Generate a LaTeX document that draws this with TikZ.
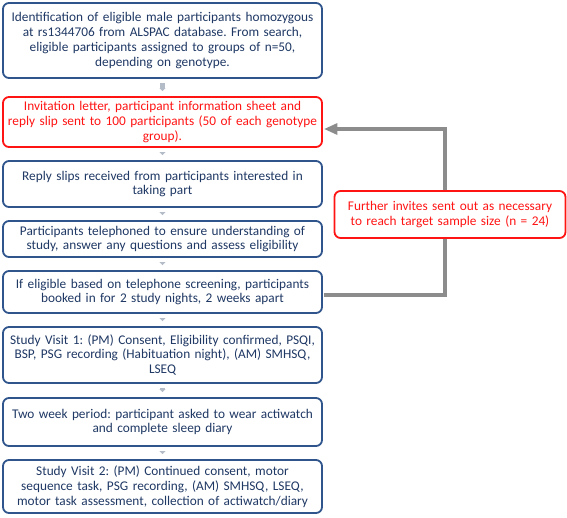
\documentclass[tikz,border=0pt]{standalone}
\usepackage{fontspec}
\setmainfont{Carlito}
\usetikzlibrary{arrows.meta}
\hyphenpenalty=10000
\exhyphenpenalty=10000
\frenchspacing
\newcommand\boxfnt{\fontsize{13.3pt}{14.7pt}\selectfont}
\definecolor{bborder}{RGB}{47,85,140}
\definecolor{btext}{RGB}{31,56,100}
\definecolor{rred}{RGB}{255,20,20}
\definecolor{lgrey}{RGB}{180,188,200}
\definecolor{dgrey}{RGB}{140,140,140}
\begin{document}
\begin{tikzpicture}[x=1pt,y=-1pt,
  bbox/.style={draw=bborder,line width=1.8pt,rounded corners=6pt,fill=white,
    text=btext,minimum width=319pt,text width=318pt,align=center,inner sep=0pt,
    font=\boxfnt},
  rbox/.style={bbox,draw=rred,text=rred},
  small/.style={draw=lgrey,line width=4.5pt,-{Triangle[length=3pt,width=6pt]}},
  fb/.style={draw=dgrey,line width=4pt}
]
\useasboundingbox (0,0) rectangle (567,517);
\node[bbox,minimum height=75pt] (b1) at (162.5,40.5) {Identification of eligible male participants homozygous\\ at rs1344706 from ALSPAC database. From search,\\ eligible participants assigned to groups of n=50,\\ depending on genotype.};
\node[rbox,minimum height=50pt] (b2) at (162.5,122) {Invitation letter, participant information sheet and\\ reply slip sent to 100 participants (50 of each genotype\\ group).};
\node[bbox,minimum height=46pt] (b3) at (162.5,184) {Reply slips received from participants interested in\\ taking part};
\node[bbox,minimum height=36pt] (b4) at (162.5,239) {Participants telephoned to ensure understanding of\\ study, answer any questions and assess eligibility};
\node[bbox,minimum height=42pt] (b5) at (162.5,292) {If eligible based on telephone screening, participants\\ booked in for 2 study nights, 2 weeks apart};
\node[bbox,minimum height=56pt] (b6) at (162.5,355) {Study Visit 1: (PM) Consent, Eligibility confirmed, PSQI,\\ BSP, PSG recording (Habituation night), (AM) SMHSQ,\\ LSEQ};
\node[bbox,minimum height=48pt] (b7) at (162.5,422) {Two week period: participant asked to wear actiwatch\\ and complete sleep diary};
\node[bbox,minimum height=53pt] (b8) at (162.5,486.5) {Study Visit 2: (PM) Continued consent, motor\\ sequence task, PSG recording, (AM) SMHSQ, LSEQ,\\ motor task assessment, collection of actiwatch/diary};
\foreach \a/\b in {b1/b2,b2/b3,b3/b4,b4/b5,b5/b6,b6/b7,b7/b8}{
  \draw[small] ([yshift=-4.5pt]\a.south) -- ([yshift=5pt]\b.north);
}
\coordinate (s) at ([yshift=-3pt]b5.east);
\coordinate (t) at ([yshift=-7pt]b2.east);
\coordinate (c1) at (445,0);
\draw[fb] ([xshift=1pt]s) -- (s -| c1) -- (t -| c1) -- ([xshift=12pt]t);
\fill[dgrey] ([xshift=1.5pt]t) -- ++(13pt,-6pt) -- ++(0,12pt) -- cycle;
\node[rbox,minimum width=231pt,text width=230pt,minimum height=47pt] (r) at (450,214.5) {Further invites sent out as necessary\\ to reach target sample size (n = 24)};
\end{tikzpicture}
\end{document}
